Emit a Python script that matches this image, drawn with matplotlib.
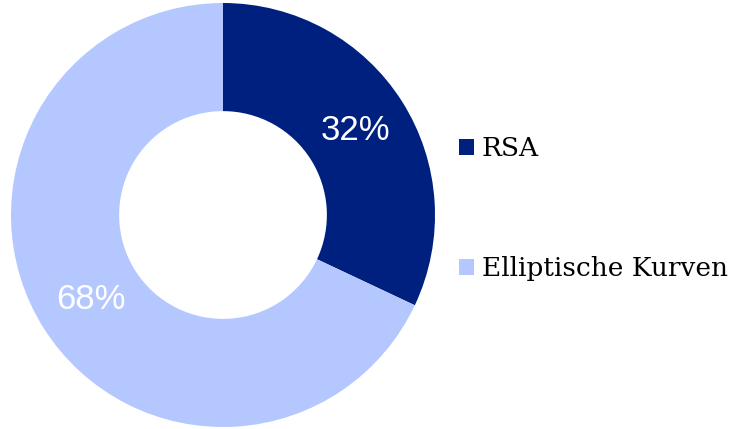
import matplotlib.pyplot as plt

labels = ["RSA", "Elliptische Kurven"]
shares = [32, 68]
colors = ["#002080", "#B4C8FF"]

fig = plt.figure(figsize=(7.33, 4.29), dpi=100)
# square box of 424 px around the donut centre (223, 215)
ax = fig.add_axes([11 / 733, 2 / 429, 424 / 733, 424 / 429])
wedges, _, autotexts = ax.pie(
    shares,
    colors=colors,
    startangle=90,
    counterclock=False,
    radius=1.0,
    autopct="%d%%",
    pctdistance=0.74,
    wedgeprops=dict(width=0.51, edgecolor="none"),
    textprops=dict(color="white", fontsize=25, family="Liberation Sans"),
)
ax.set_xlim(-1, 1)
ax.set_ylim(-1, 1)
ax.set_aspect("auto")
ax.axis("off")

fig.legend(
    wedges,
    labels,
    loc="center left",
    bbox_to_anchor=(446 / 733, 0.513),
    frameon=False,
    prop=dict(family="DejaVu Serif", size=19),
    handlelength=0.55,
    handleheight=0.55,
    handletextpad=0.3,
    labelspacing=3.6,
    borderpad=0,
)

fig.savefig("out.png", dpi=100)
